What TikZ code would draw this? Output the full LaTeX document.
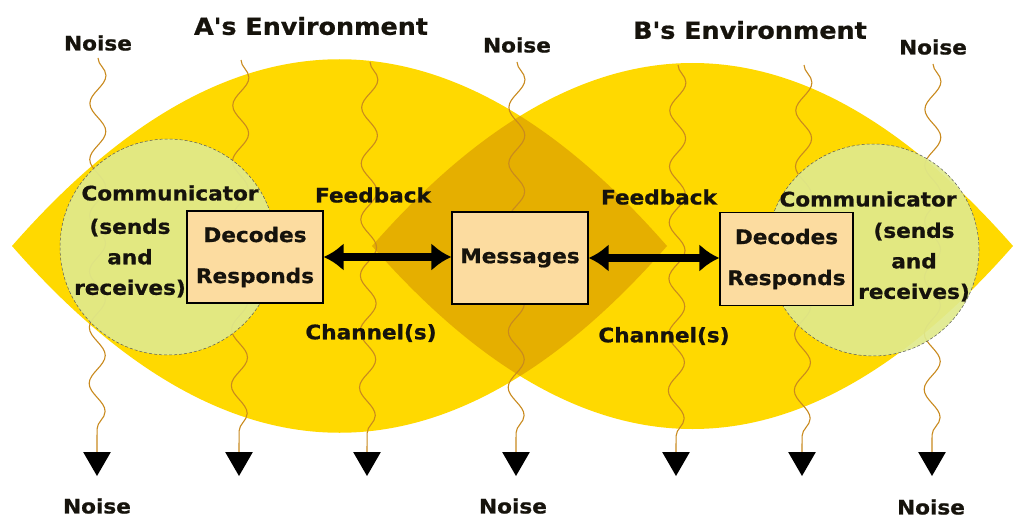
\documentclass[tikz,border=0pt]{standalone}
\usepackage{fontspec}
\setmainfont{DejaVu Sans}[FakeStretch=1.08,Ligatures=TeXOff,BoldFeatures={FakeBold=0.8}]
\usetikzlibrary{decorations.pathmorphing,shapes.geometric,arrows.meta}
\definecolor{yel}{HTML}{FFD900}
\definecolor{dyel}{HTML}{E5AF00}
\definecolor{circ}{RGB}{224,234,140}
\definecolor{boxc}{HTML}{FCDCA0}
\definecolor{wave}{HTML}{C98A1E}
\definecolor{ink}{HTML}{16130C}
\newcommand\lensApath{(12,-246) .. controls (230,3) and (449,3) .. (667,-246) .. controls (449,-495) and (230,-495) .. cycle}
\newcommand\lensBpath{(372,-246) .. controls (586,-2) and (799,-2) .. (1013,-246) .. controls (799,-490) and (586,-490) .. cycle}
\begin{document}
\begin{tikzpicture}[x=1pt,y=1pt,
  lab/.style={font=\fontsize{20}{24}\selectfont\bfseries, text=ink, inner sep=1pt},
  lines3/.style={font=\fontsize{20}{30.5}\selectfont\bfseries, text=ink, inner sep=1pt, align=center},
  head/.style={font=\fontsize{23.5}{28}\selectfont\bfseries, text=ink, inner sep=1pt},
  wavy/.style={draw=wave, line width=1.1pt, decorate, decoration={snake, segment length=56pt, amplitude=8pt}},
  noisetip/.style={regular polygon, regular polygon sides=3, shape border rotate=180, fill=black, minimum size=32pt, inner sep=0pt},
  commcirc/.style={circle, fill=circ, fill opacity=0.92, draw=gray!70!black, densely dashed, line width=0.5pt, inner sep=0pt},
  msgbox/.style={rectangle, fill=boxc, draw=black, line width=1.2pt, align=center, inner sep=0pt, font=\fontsize{20}{41}\selectfont\bfseries, text=ink},
  dbl/.style={{Latex[length=20pt,width=28pt]}-{Latex[length=20pt,width=28pt]}, line width=8pt, black},
]
\useasboundingbox (0,0) rectangle (1014,-519);
\fill[white] (0,0) rectangle (1014,-519);
% environments
\fill[yel] \lensApath;
\fill[yel] \lensBpath;
\begin{scope}
  \clip \lensApath;
  \fill[dyel] \lensBpath;
\end{scope}
% noise labels
\node[lab] (nTL) at (98,-43) {Noise};
\node[lab] (nTM) at (517,-45) {Noise};
\node[lab] (nTR) at (933,-47) {Noise};
\node[lab] (nBL) at (97,-506) {Noise};
\node[lab] (nBM) at (513,-506) {Noise};
\node[lab] (nBR) at (931,-507) {Noise};
% arrow tips
\node[noisetip] (t1) at (97,-460) {};
\node[noisetip] (t2) at (239,-460) {};
\node[noisetip] (t3) at (367,-460) {};
\node[noisetip] (t4) at (516,-460) {};
\node[noisetip] (t5) at (676,-460) {};
\node[noisetip] (t6) at (802,-460) {};
\node[noisetip] (t7) at (932,-460) {};
\coordinate (w2) at (241,-60);
\coordinate (w3) at (370,-62);
\coordinate (w5) at (678,-65);
\coordinate (w6) at (804,-65);
% wavy noise lines
\draw[wavy] ([yshift=-6pt]nTL.south) -- (t1.north);
\draw[wavy] (w2) -- (t2.north);
\draw[wavy] (w3) -- (t3.north);
\draw[wavy] ([yshift=-8pt]nTM.south) -- (t4.north);
\draw[wavy] (w5) -- (t5.north);
\draw[wavy] (w6) -- (t6.north);
\draw[wavy] ([yshift=-8pt]nTR.south) -- (t7.north);
% communicators
\node[commcirc, minimum size=216pt] (cA) at (168,-247) {};
\node[commcirc, minimum size=212pt] (cB) at (873,-250) {};
% boxes
\node[msgbox, minimum width=136pt, minimum height=92pt] (bA) at (255,-257) {Decodes\\Responds};
\node[msgbox, minimum width=136pt, minimum height=92pt] (msg) at (520,-258) {Messages};
\node[msgbox, minimum width=133pt, minimum height=93pt] (bB) at (786.5,-259) {Decodes\\Responds};
% feedback arrows
\draw[dbl] (bA.east) -- (bA.east -| msg.west);
\draw[dbl] (msg.east) -- (msg.east -| bB.west);
% texts
\node[head] (envA) at (311,-26) {A's Environment};
\node[head] (envB) at (750,-30) {B's Environment};
\node[lab] (fbA) at (373,-195) {Feedback};
\node[lab] (fbB) at (659,-197) {Feedback};
\node[lab] (chA) at (371,-333) {Channel(s)};
\node[lab] (chB) at (664,-336) {Channel(s)};
\node[lab] (comA) at (170,-193) {Communicator};
\node[lines3] (srA) at (130,-258) {(sends\\and\\receives)};
\node[lab] (comB) at (868,-199) {Communicator};
\node[lines3] (srB) at (914,-262) {(sends\\and\\receives)};
\end{tikzpicture}
\end{document}
